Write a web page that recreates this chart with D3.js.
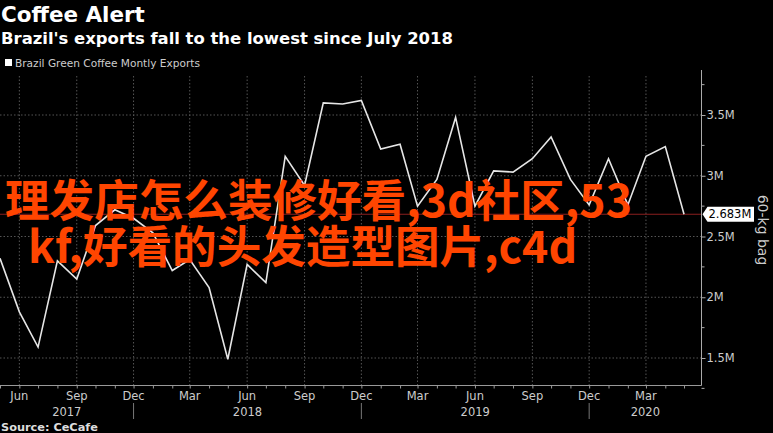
<!DOCTYPE html>
<html><head><meta charset="utf-8">
<script src="https://cdn.jsdelivr.net/npm/d3@7"></script>
<style>
html,body{margin:0;padding:0;background:#000;}
svg{display:block;}
</style></head>
<body>
<svg id="c" width="773" height="433"></svg>
<script>
// ---- data ----
const months = ["2017-05","2017-06","2017-07","2017-08","2017-09","2017-10","2017-11","2017-12",
"2018-01","2018-02","2018-03","2018-04","2018-05","2018-06","2018-07","2018-08","2018-09","2018-10","2018-11","2018-12",
"2019-01","2019-02","2019-03","2019-04","2019-05","2019-06","2019-07","2019-08","2019-09","2019-10","2019-11","2019-12",
"2020-01","2020-02","2020-03","2020-04","2020-05"];
const exportsM = [2.32,1.88,1.59,2.30,2.15,2.59,2.72,2.65,
2.53,2.22,2.31,2.08,1.49,2.27,2.12,3.16,2.92,3.60,3.59,3.62,
3.22,3.26,2.75,2.97,3.48,2.75,3.04,3.03,3.14,3.32,2.97,2.76,
3.14,2.76,3.16,3.24,2.683];
const yTicks = [1.5,2,2.5,3,3.5];
const yMinor = [1.25,1.75,2.25,2.75,3.25,3.75];
const xTickMonths = ["2017-06","2017-09","2017-12","2018-03","2018-06","2018-09","2018-12","2019-03","2019-06","2019-09","2019-12","2020-03"];
const yearLabels = ["2017","2018","2019","2020"];
const yearSeps = ["2017-12","2018-12","2019-12"];
const lastLabel = "2.683M";
const titleText = "Coffee Alert";
const subtitleText = "Brazil's exports fall to the lowest since July 2018";
const legendText = "Brazil Green Coffee Montly Exports";
const unitText = "60-kg bag";
const sourceText = "Source: CeCafe";
const overlay1 = "理发店怎么装修好看,3d社区,53";
const overlay2 = "kf,好看的头发造型图片,c4d";

const parse = d3.timeParse("%Y-%m");
const data = months.map((m,i)=>({date:parse(m), v:exportsM[i]}));

const svg = d3.select("#c");
const font = "'DejaVu Sans', Verdana, sans-serif";
const plotL = 0, plotR = 701.5, plotT = 76, plotB = 385.5;

const x = d3.scaleTime().domain([new Date(2017,4,1), new Date(2020,4,29)]).range([plotL, plotR]);
const y = d3.scaleLinear().domain([1.5,3.5]).range([358,115]);

function fit(sel, w){
  const n = sel.node(); const fs = parseFloat(sel.attr("font-size"));
  const cw = n.getComputedTextLength();
  sel.attr("font-size", fs*w/cw);
}

// title
fit(svg.append("text").attr("x",1).attr("y",22).attr("fill","#fff").attr("font-family",font)
  .attr("font-weight","bold").attr("font-size",20).text(titleText),144);
fit(svg.append("text").attr("x",1).attr("y",44).attr("fill","#fff").attr("font-family",font)
  .attr("font-weight","bold").attr("font-size",15).text(subtitleText),452);
// legend
svg.append("rect").attr("x",5).attr("y",59).attr("width",7).attr("height",7).attr("fill","#fff");
fit(svg.append("text").attr("x",15).attr("y",67).attr("fill","#ccc").attr("font-family",font)
  .attr("font-size",10).text(legendText),185);

// grid
const g = svg.append("g");
g.selectAll("line.hg").data(yTicks).join("line")
  .attr("x1",plotL).attr("x2",plotR).attr("y1",d=>y(d)).attr("y2",d=>y(d))
  .attr("stroke","#555").attr("stroke-dasharray","1.5,2");
g.selectAll("line.vg").data(xTickMonths).join("line")
  .attr("x1",d=>x(parse(d))).attr("x2",d=>x(parse(d))).attr("y1",plotT).attr("y2",plotB)
  .attr("stroke","#555").attr("stroke-dasharray","1.5,2");

// last value reference line
svg.append("line").attr("x1",plotL).attr("x2",plotR).attr("y1",y(exportsM[exportsM.length-1])).attr("y2",y(exportsM[exportsM.length-1]))
  .attr("stroke","#8a1f1f").attr("stroke-width",1.2);

// data line
svg.append("path").datum(data)
  .attr("d", d3.line().x(d=>x(d.date)).y(d=>y(d.v)))
  .attr("fill","none").attr("stroke","#e6e6e6").attr("stroke-width",1.6).attr("stroke-linejoin","miter");

// x axis
const xAxis = d3.axisBottom(x).ticks(d3.timeMonth.every(1)).tickSize(3).tickFormat("");
const xa = svg.append("g").attr("transform",`translate(0,${plotB})`).call(xAxis);
xa.select(".domain").attr("stroke","#999").attr("d",`M${plotL},0H${plotR}`);
xa.selectAll(".tick line").attr("stroke","#999");
svg.selectAll("text.xl").data(xTickMonths).join("text")
  .attr("x",d=>x(parse(d))).attr("y",400).attr("text-anchor","middle")
  .attr("fill","#ccc").attr("font-family",font).attr("font-size",11.5)
  .text(d=>d3.timeFormat("%b")(parse(d)));
const sepX = yearSeps.map(d=>x(parse(d)));
const bounds = [plotL, ...sepX, plotR];
svg.selectAll("text.yl").data(yearLabels).join("text")
  .attr("x",(d,i)=>(bounds[i]+bounds[i+1])/2).attr("y",416).attr("text-anchor","middle")
  .attr("fill","#ccc").attr("font-family",font).attr("font-size",11.5).text(d=>d);
svg.selectAll("line.sep").data(sepX).join("line")
  .attr("x1",d=>d).attr("x2",d=>d).attr("y1",403).attr("y2",419).attr("stroke","#777");

// y axis (right)
const ya = svg.append("g").attr("transform",`translate(${plotR},0)`)
  .call(d3.axisRight(y).tickValues(yTicks).tickSize(4).tickFormat(d=>d+"M"));
ya.select(".domain").attr("stroke","#aaa").attr("d",`M0,${plotT-6}V${plotB}`);
ya.selectAll(".tick line").attr("stroke","#aaa");
ya.selectAll(".tick text").attr("fill","#ccc").attr("font-family",font).attr("font-size",11.5).attr("x",5);
svg.selectAll("line.ym").data(yMinor).join("line")
  .attr("x1",plotR).attr("x2",plotR+3).attr("y1",d=>y(d)).attr("y2",d=>y(d)).attr("stroke","#aaa");

// last value label
const ly = y(exportsM[exportsM.length-1]);
svg.append("path").attr("d",`M${plotR+1},${ly} L${plotR+6},${ly-7.5} H754 V${ly+7.5} H${plotR+6} Z`).attr("fill","#fff");
svg.append("text").attr("x",plotR+7).attr("y",ly+4).attr("fill","#000").attr("font-family",font)
  .attr("font-size",11.5).text(lastLabel);

// unit label
svg.append("text").attr("transform","translate(758,230) rotate(90)").attr("text-anchor","middle")
  .attr("fill","#ccc").attr("font-family",font).attr("font-size",14).text(unitText);

// source
fit(svg.append("text").attr("x",1).attr("y",431).attr("fill","#ddd").attr("font-family",font)
  .attr("font-weight","bold").attr("font-size",10).text(sourceText),97);

// overlay text
const cjk = "'Noto Sans CJK SC', sans-serif";
const o1 = svg.append("text").attr("x",5).attr("y",217).attr("fill","#ff4500").attr("font-family",cjk)
  .attr("font-weight",600).attr("font-size",42).text(overlay1);
fit(o1,627);
const fs = o1.attr("font-size");
svg.append("text").attr("x",28).attr("y",263).attr("fill","#ff4500").attr("font-family",cjk)
  .attr("font-weight",600).attr("font-size",fs).text(overlay2);
</script>
</body></html>
